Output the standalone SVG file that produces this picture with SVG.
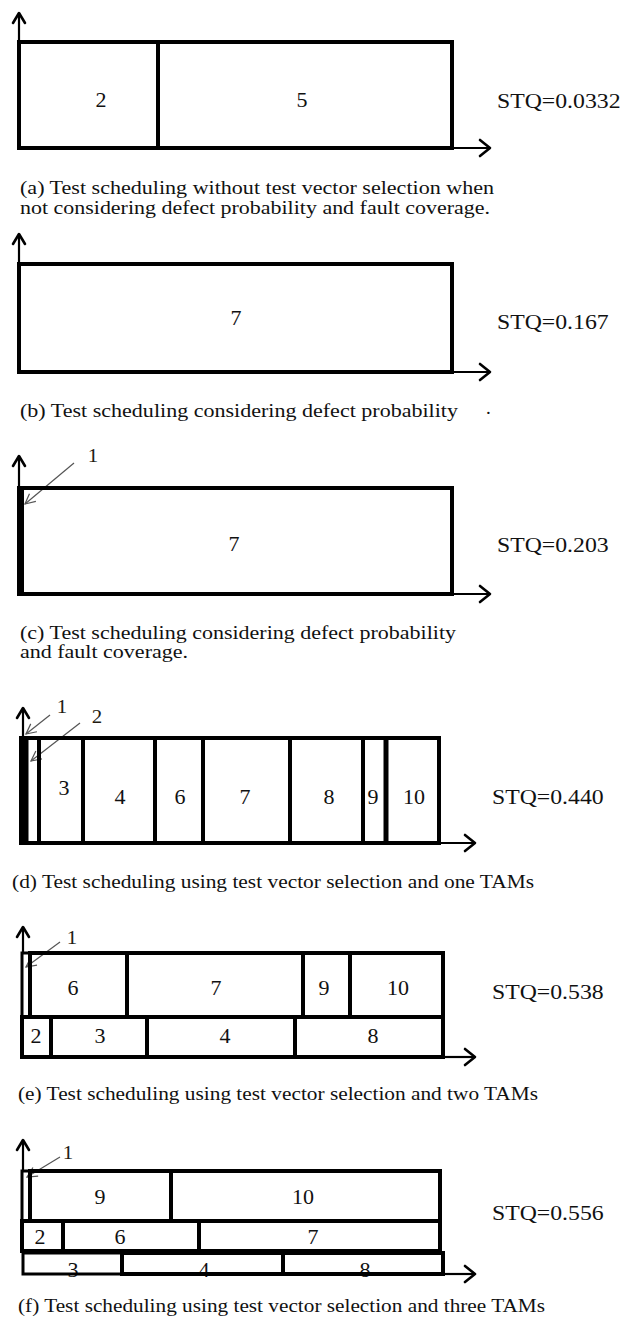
<svg xmlns="http://www.w3.org/2000/svg" width="623" height="1322" viewBox="0 0 623 1322" font-family="Liberation Serif, Times New Roman, serif">
<defs>
<style>
.box{fill:none;stroke:#000;stroke-width:4}
.thin{fill:none;stroke:#000;stroke-width:3}
.blk{fill:#000}
.ax{fill:none;stroke:#000;stroke-width:2.2}
.ah{fill:none;stroke:#000;stroke-width:2.6;stroke-linecap:round;stroke-linejoin:round}
.ld{stroke:#555;stroke-width:1.2;fill:none;marker-end:url(#open)}
text{font-family:'Liberation Serif',serif;fill:#111}
.lbl{font-size:20px;text-anchor:middle}
.stq{font-size:22px}
.cap{font-size:19px}
.num{font-size:19px;fill:#221a10}
</style>
<marker id="open" markerUnits="userSpaceOnUse" markerWidth="12" markerHeight="12" viewBox="0 0 12 12" refX="11" refY="6" orient="auto"><path d="M1,1 L11,6 L1,11" fill="none" stroke="#555" stroke-width="1.2"/></marker>
</defs>
<rect x="0" y="0" width="623" height="1322" fill="#fff"/>

<g id="connectors">
  <line class="ax" x1="19" y1="42" x2="19" y2="13"/><polyline class="ah" points="13,23 19,13 25,23"/>
  <line class="ax" x1="452" y1="148" x2="489" y2="148"/><polyline class="ah" points="480,140 490,148 480,156"/>
  <line class="ax" x1="19" y1="264" x2="19" y2="234"/><polyline class="ah" points="13,244 19,234 25,244"/>
  <line class="ax" x1="452" y1="372" x2="489" y2="372"/><polyline class="ah" points="480,364 490,372 480,380"/>
  <line class="ax" x1="19" y1="488" x2="19" y2="456"/><polyline class="ah" points="13,466 19,456 25,466"/>
  <line class="ax" x1="452" y1="594" x2="489" y2="594"/><polyline class="ah" points="480,586 490,594 480,602"/>
  <line class="ld" x1="74" y1="463" x2="25" y2="504"/>
  <line class="ax" x1="23" y1="738" x2="23" y2="708"/><polyline class="ah" points="17,718 23,708 29,718"/>
  <line class="ax" x1="440" y1="843" x2="474" y2="843"/><polyline class="ah" points="465,835 475,843 465,851"/>
  <line class="ld" x1="50" y1="715" x2="26" y2="734"/>
  <line class="ld" x1="80" y1="723" x2="31" y2="761"/>
  <line class="ax" x1="23" y1="953" x2="23" y2="927"/><polyline class="ah" points="17,937 23,927 29,937"/>
  <line class="ax" x1="443" y1="1057" x2="474" y2="1057"/><polyline class="ah" points="465,1049 475,1057 465,1065"/>
  <line class="ld" x1="60" y1="942" x2="26" y2="967"/>
  <line class="ax" x1="23" y1="1171" x2="23" y2="1140"/><polyline class="ah" points="17,1150 23,1140 29,1150"/>
  <line class="ax" x1="443" y1="1274" x2="474" y2="1274"/><polyline class="ah" points="465,1266 475,1274 465,1282"/>
  <line class="ld" x1="60" y1="1157" x2="27" y2="1177"/>
</g>

<g id="panel-a">
  <g id="a-2"><rect class="box" x="19" y="42" width="139" height="106"/><text class="lbl" transform="translate(101,107) scale(1.1,1)">2</text></g>
  <g id="a-5"><rect class="box" x="158" y="42" width="294" height="106"/><text class="lbl" transform="translate(302,107) scale(1.1,1)">5</text></g>
  <text class="stq" transform="translate(497,108) scale(1.08,1)">STQ=0.0332</text>
  <text class="cap" x="20" y="194" textLength="474" lengthAdjust="spacingAndGlyphs">(a) Test scheduling without test vector selection when</text>
  <text class="cap" x="20" y="214" textLength="470" lengthAdjust="spacingAndGlyphs">not considering defect probability and fault coverage.</text>
</g>

<g id="panel-b">
  <g id="b-7"><rect class="box" x="19" y="264" width="433" height="108"/><text class="lbl" transform="translate(236,325) scale(1.1,1)">7</text></g>
  <text class="stq" transform="translate(497,329) scale(1.08,1)">STQ=0.167</text>
  <text class="cap" x="20" y="417" textLength="438" lengthAdjust="spacingAndGlyphs">(b) Test scheduling considering defect probability</text>
  <text class="cap" x="486" y="414">.</text>
</g>

<g id="panel-c">
  <g id="c-1"><rect class="blk" x="17" y="486" width="7" height="110"/><text class="num" transform="translate(93,462) scale(1.1,1)" text-anchor="middle">1</text></g>
  <g id="c-7"><rect class="box" x="19" y="488" width="433" height="106"/><text class="lbl" transform="translate(234,551) scale(1.1,1)">7</text></g>
  <rect class="blk" x="17" y="486" width="7" height="110"/>
  <text class="stq" transform="translate(497,552) scale(1.08,1)">STQ=0.203</text>
  <text class="cap" x="20" y="639" textLength="436" lengthAdjust="spacingAndGlyphs">(c) Test scheduling considering defect probability</text>
  <text class="cap" x="20" y="658" textLength="168" lengthAdjust="spacingAndGlyphs">and fault coverage.</text>
</g>

<g id="panel-d">
  <g id="d-1"><rect class="blk" x="19" y="736" width="8" height="109"/><text class="num" transform="translate(62,713) scale(1.1,1)" text-anchor="middle">1</text></g>
  <g id="d-2"><rect class="thin" x="27" y="738" width="12" height="105"/><text class="num" transform="translate(97,723) scale(1.1,1)" text-anchor="middle">2</text></g>
  <g id="d-3"><rect class="box" x="39" y="738" width="44" height="105"/><text class="lbl" transform="translate(64,795) scale(1.1,1)">3</text></g>
  <g id="d-4"><rect class="box" x="83" y="738" width="72" height="105"/><text class="lbl" transform="translate(120,804) scale(1.1,1)">4</text></g>
  <g id="d-6"><rect class="box" x="155" y="738" width="48" height="105"/><text class="lbl" transform="translate(180,804) scale(1.1,1)">6</text></g>
  <g id="d-7"><rect class="box" x="203" y="738" width="87" height="105"/><text class="lbl" transform="translate(245,804) scale(1.1,1)">7</text></g>
  <g id="d-8"><rect class="box" x="290" y="738" width="73" height="105"/><text class="lbl" transform="translate(329,804) scale(1.1,1)">8</text></g>
  <g id="d-9"><rect class="thin" x="363" y="738" width="23" height="105"/><text class="lbl" transform="translate(373,804) scale(1.1,1)">9</text></g>
  <g id="d-10"><rect class="box" x="386" y="738" width="53" height="105"/><text class="lbl" transform="translate(414,804) scale(1.1,1)">10</text></g>
  <line x1="386" y1="736" x2="386" y2="845" stroke="#000" stroke-width="5"/>
  <line x1="21" y1="738" x2="440" y2="738" stroke="#000" stroke-width="4"/>
  <line x1="21" y1="843" x2="440" y2="843" stroke="#000" stroke-width="4"/>
  <text class="stq" transform="translate(492,804) scale(1.08,1)">STQ=0.440</text>
  <text class="cap" x="12" y="888" textLength="522" lengthAdjust="spacingAndGlyphs">(d) Test scheduling using test vector selection and one TAMs</text>
</g>

<g id="panel-e">
  <g id="e-1"><rect class="thin" x="22" y="953" width="8" height="64"/><text class="num" transform="translate(72,944) scale(1.1,1)" text-anchor="middle">1</text></g>
  <g id="e-6"><rect class="box" x="30" y="953" width="97" height="64"/><text class="lbl" transform="translate(73,995) scale(1.1,1)">6</text></g>
  <g id="e-7"><rect class="box" x="127" y="953" width="176" height="64"/><text class="lbl" transform="translate(216,995) scale(1.1,1)">7</text></g>
  <g id="e-9"><rect class="box" x="303" y="953" width="47" height="64"/><text class="lbl" transform="translate(324,995) scale(1.1,1)">9</text></g>
  <g id="e-10"><rect class="box" x="350" y="953" width="93" height="64"/><text class="lbl" transform="translate(398,995) scale(1.1,1)">10</text></g>
  <g id="e-2"><rect class="box" x="22" y="1017" width="29" height="40"/><text class="lbl" transform="translate(36,1043) scale(1.1,1)">2</text></g>
  <g id="e-3"><rect class="box" x="51" y="1017" width="96" height="40"/><text class="lbl" transform="translate(100,1043) scale(1.1,1)">3</text></g>
  <g id="e-4"><rect class="box" x="147" y="1017" width="148" height="40"/><text class="lbl" transform="translate(225,1043) scale(1.1,1)">4</text></g>
  <g id="e-8"><rect class="box" x="295" y="1017" width="148" height="40"/><text class="lbl" transform="translate(373,1043) scale(1.1,1)">8</text></g>
  <text class="stq" transform="translate(492,999) scale(1.08,1)">STQ=0.538</text>
  <text class="cap" x="18" y="1100" textLength="520" lengthAdjust="spacingAndGlyphs">(e) Test scheduling using test vector selection and two TAMs</text>
</g>

<g id="panel-f">
  <g id="f-1"><rect class="thin" x="22" y="1171" width="8" height="50"/><text class="num" transform="translate(68,1159) scale(1.1,1)" text-anchor="middle">1</text></g>
  <g id="f-9"><rect class="box" x="30" y="1171" width="141" height="50"/><text class="lbl" transform="translate(100,1204) scale(1.1,1)">9</text></g>
  <g id="f-10"><rect class="box" x="171" y="1171" width="269" height="50"/><text class="lbl" transform="translate(303,1204) scale(1.1,1)">10</text></g>
  <g id="f-2"><rect class="box" x="22" y="1221" width="41" height="30"/><text class="lbl" transform="translate(40,1244) scale(1.1,1)">2</text></g>
  <g id="f-6"><rect class="box" x="63" y="1221" width="136" height="30"/><text class="lbl" transform="translate(120,1244) scale(1.1,1)">6</text></g>
  <g id="f-7"><rect class="box" x="199" y="1221" width="241" height="30"/><text class="lbl" transform="translate(313,1244) scale(1.1,1)">7</text></g>
  <g id="f-3"><text class="lbl" transform="translate(73,1277) scale(1.1,1)">3</text><rect x="23" y="1253" width="99" height="21" fill="none" stroke="#000" stroke-width="3"/></g>
  <g id="f-4"><text class="lbl" transform="translate(204,1277) scale(1.1,1)">4</text><rect class="box" x="122" y="1253" width="161" height="21"/></g>
  <g id="f-8"><text class="lbl" transform="translate(365,1277) scale(1.1,1)">8</text><rect class="box" x="283" y="1253" width="160" height="21"/></g>
  <text class="stq" transform="translate(492,1220) scale(1.08,1)">STQ=0.556</text>
  <text class="cap" x="18" y="1312" textLength="527" lengthAdjust="spacingAndGlyphs">(f) Test scheduling using test vector selection and three TAMs</text>
</g>
</svg>
